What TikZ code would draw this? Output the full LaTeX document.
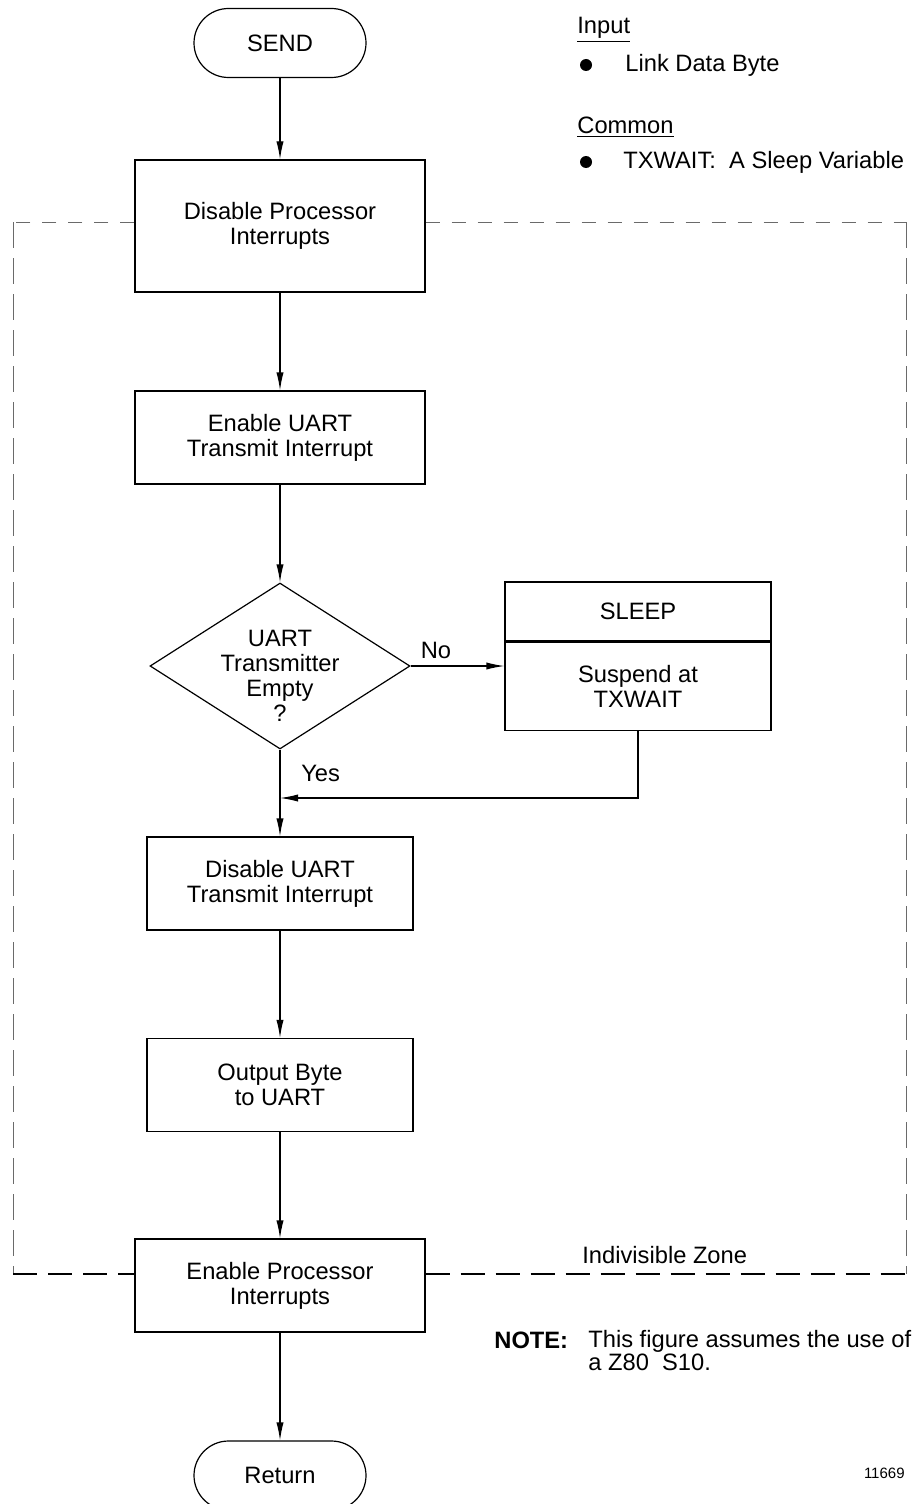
\documentclass[tikz,border=0pt]{standalone}
\usepackage{fontspec}
\setmainfont{Liberation Sans}
\usepackage{xcolor}
\usetikzlibrary{positioning, arrows.meta, shapes.geometric}
\definecolor{zoneGray}{HTML}{6A6A6A}

\begin{document}
\begin{tikzpicture}[x=0.5pt, y=-0.5pt,
  every node/.style={font=\fontsize{11.85pt}{12.6pt}\selectfont},
  termbox/.style={draw, line width=0.6pt, rounded corners=17.25pt,
                  minimum width=86pt, minimum height=34.5pt, inner sep=0pt},
  widebox/.style={draw, line width=0.6pt, align=center, inner sep=0pt,
                  minimum width=145pt, minimum height=46.5pt},
  narrowbox/.style={draw, line width=0.6pt, align=center, inner sep=0pt,
                    minimum width=133pt, minimum height=46.5pt},
  decision/.style={draw, diamond, line width=0.6pt, inner sep=0pt,
                   minimum width=130pt, minimum height=83pt},
  arr/.style={-{Latex[length=9pt, width=3.6pt]}, line width=0.6pt},
  zonetop/.style={draw=zoneGray, line width=0.5pt, dash pattern=on 7pt off 6pt},
  zoneside/.style={draw=zoneGray, line width=0.5pt, dash pattern=on 13pt off 5pt},
  zonebold/.style={line width=1.3pt, dash pattern=on 12pt off 5.5pt},
  txt/.style={anchor=west, inner sep=0pt},
  bullet/.style={circle, fill, inner sep=0pt, minimum size=6pt},
]
  \useasboundingbox (0,0) rectangle (913,1504);

  % main flow
  \node[termbox] (send) at (280,43) {SEND};
  \node[widebox, minimum height=66pt] (dispi) at (280,226) {Disable Processor\\Interrupts};
  \node[widebox] (enuart) at (280,437.5) {Enable UART\\Transmit Interrupt};
  \node[decision, label={[align=center, yshift=-5pt]center:UART\\Transmitter\\Empty\\?}] (test) at (280,666) {};
  \node[narrowbox] (disuart) at (280,883.5) {Disable UART\\Transmit Interrupt};
  \node[narrowbox] (outbyte) at (280,1085) {Output Byte\\to UART};
  \node[widebox] (enpi) at (280,1285.5) {Enable Processor\\Interrupts};
  \node[termbox] (retn) at (280,1475.5) {Return};

  % sleep branch
  \node[narrowbox, minimum height=29.5pt] (sleephd) at (638,611.5) {SLEEP};
  \node[narrowbox, minimum height=44pt, below=0pt of sleephd] (sleepbd) {Suspend at\\TXWAIT};
  \coordinate (merge) at (280,798);

  \draw[arr] (send) -- (dispi);
  \draw[arr] (dispi) -- (enuart);
  \draw[arr] (enuart) -- (test);
  \draw[arr] (test.east) -- node[pos=0.27, above] (nolbl) {No} (test.east -| sleepbd.west);
  \draw[arr] (test.south) -- node[pos=0.28, right, xshift=7pt] (yeslbl) {Yes} (disuart.north);
  \draw[arr] (sleepbd.south) |- (merge);
  \draw[arr] (disuart) -- (outbyte);
  \draw[arr] (outbyte) -- (enpi);
  \draw[arr] (enpi) -- (retn);

  % indivisible zone
  \coordinate (ztl) at (13,222);
  \coordinate (ztr) at (906,222);
  \coordinate (zbl) at (13,1274);
  \coordinate (zbr) at (906,1274);
  \draw[zonetop] (ztl -| dispi.west) -- (ztl);
  \draw[zonetop] (ztl -| dispi.east) -- (ztr);
  \draw[zoneside] (ztl) -- (zbl);
  \draw[zoneside] (ztr) -- (zbr);
  \draw[zonebold] (zbl) -- (zbl -| enpi.west);
  \draw[zonebold] (zbr -| enpi.east) -- (zbr);
  \node[txt] (zonelbl) at (582,1255) {Indivisible Zone};

  % input / common
  \node[txt] (inhd) at (577,30) {\underline{Input}};
  \node[bullet] (inbul) at (586,65) {};
  \node[txt] (initem) at (625,65) {Link Data Byte};
  \node[txt] (cmhd) at (577,127) {\underline{Common}};
  \node[bullet] (cmbul) at (586,162) {};
  \node[txt] (cmitem) at (623,162) {TXWAIT:\ \ A Sleep Variable};

  % note
  \node[txt] (notehd) at (494,1340) {\textbf{NOTE:}};
  \node[txt, align=left, font=\fontsize{11.85pt}{11.5pt}\selectfont] (notetxt) at (588,1351) {This figure assumes the use of\\a Z80\ \ S10.};
  \node[anchor=east, inner sep=0pt, font=\fontsize{7.5pt}{9pt}\selectfont] (figno) at (905,1473) {11669};
\end{tikzpicture}
\end{document}
